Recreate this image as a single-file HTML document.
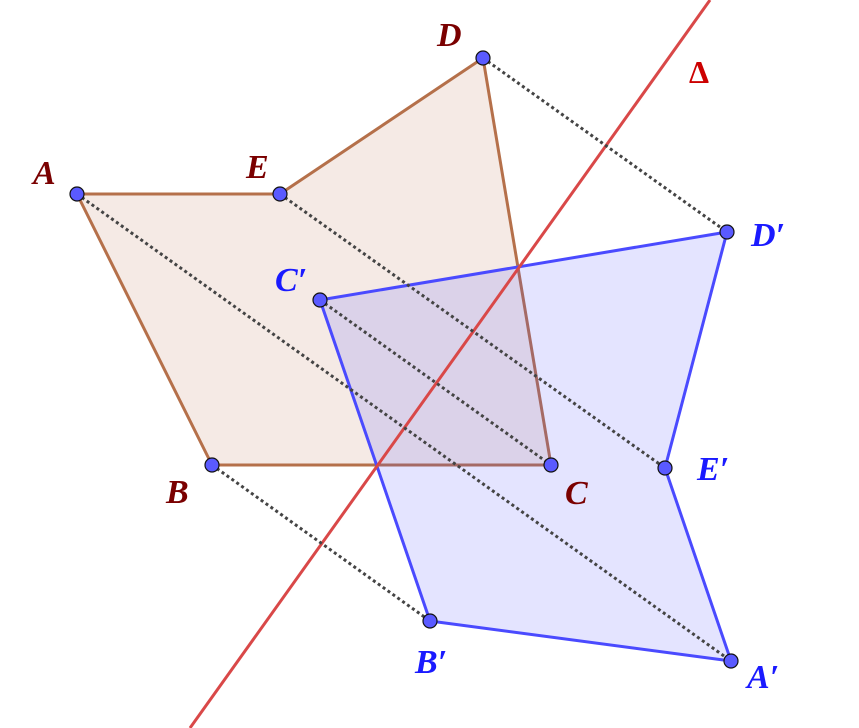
<!DOCTYPE html>
<html><head><meta charset="utf-8"><style>
html,body{margin:0;padding:0;background:#fff;}
svg{display:block}
text{font-family:"Liberation Serif",serif;font-style:italic;font-weight:bold;font-size:34px;}
.r{fill:#7a0000}.b{fill:#1a1aff}
</style></head><body>
<svg width="859" height="728" viewBox="0 0 859 728">
<polygon points="77,194 280,194 483,58 551,465 212,465" fill="rgba(153,51,0,0.1)" stroke="#b5704a" stroke-width="3" stroke-linejoin="round"/>
<polygon points="320,300 727,232 665,468 731,661 430,621" fill="rgba(77,77,255,0.15)" stroke="#4a4aff" stroke-width="3" stroke-linejoin="round"/>
<line x1="190" y1="728" x2="710" y2="0" stroke="#d94848" stroke-width="3"/>
<g stroke="#444" stroke-width="3" stroke-dasharray="3,3">
<line x1="483" y1="58" x2="727" y2="232"/>
<line x1="280" y1="194" x2="665" y2="468"/>
<line x1="77" y1="194" x2="731" y2="661"/>
<line x1="320" y1="300" x2="551" y2="465"/>
<line x1="212" y1="465" x2="430" y2="621"/>
</g>
<g fill="#5a5aff" stroke="#111" stroke-width="1.2">
<circle cx="77" cy="194" r="7"/><circle cx="280" cy="194" r="7"/><circle cx="483" cy="58" r="7"/>
<circle cx="551" cy="465" r="7"/><circle cx="212" cy="465" r="7"/>
<circle cx="320" cy="300" r="7"/><circle cx="727" cy="232" r="7"/><circle cx="665" cy="468" r="7"/>
<circle cx="731" cy="661" r="7"/><circle cx="430" cy="621" r="7"/>
</g>
<text class="r" x="33" y="184">A</text>
<text class="r" x="246" y="178">E</text>
<text class="r" x="437" y="46">D</text>
<text class="r" x="166" y="503">B</text>
<text class="r" x="565" y="504">C</text>
<text x="689" y="83" style="fill:#cc0000;font-style:normal;font-size:32px">Δ</text>
<text class="b" x="275" y="291">C′</text>
<text class="b" x="751" y="246">D′</text>
<text class="b" x="697" y="480">E′</text>
<text class="b" x="415" y="673">B′</text>
<text class="b" x="747" y="688">A′</text>
</svg>
</body></html>
